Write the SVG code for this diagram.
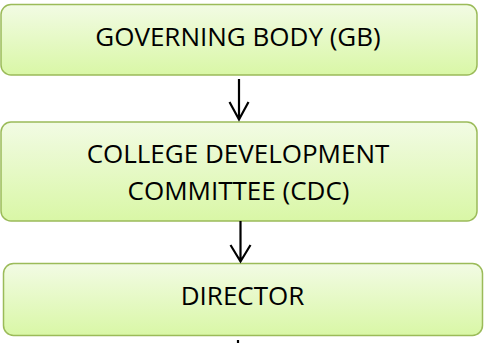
<svg xmlns="http://www.w3.org/2000/svg" width="484" height="343" viewBox="0 0 484 343">
<defs>
<linearGradient id="g" x1="0" y1="0" x2="0" y2="1">
<stop offset="0" stop-color="#f2fbe4"/>
<stop offset="1" stop-color="#d9f7a6"/>
</linearGradient>
</defs>
<style>
.box{fill:url(#g);stroke:#9bbb59;stroke-width:1.5}
.t{font-family:"Open Sans","Liberation Sans",sans-serif;font-size:26px;fill:#000;text-anchor:middle}
.c{stroke:#000;stroke-width:2.2;fill:none}
</style>
<g id="gb">
<rect class="box" x="1" y="4.5" width="476" height="70.5" rx="10"/>
<text class="t" x="238" y="46">GOVERNING BODY (GB)</text>
</g>
<g id="cdc">
<rect class="box" x="1" y="122" width="476" height="99" rx="10"/>
<text class="t" x="238" y="163">COLLEGE DEVELOPMENT</text>
<text class="t" x="238.5" y="200">COMMITTEE (CDC)</text>
</g>
<g id="director">
<rect class="box" x="3.5" y="263.5" width="479" height="72" rx="10"/>
<text class="t" x="242.5" y="305">DIRECTOR</text>
</g>
<g id="connectors">
<path class="c" d="M239 79V120M229.5 102L239 119.5L248.5 102"/>
<path class="c" d="M240.5 221V262M230.5 245L240.5 261.5L250.5 245"/>
<path class="c" d="M238 340V343"/>
</g>
</svg>
